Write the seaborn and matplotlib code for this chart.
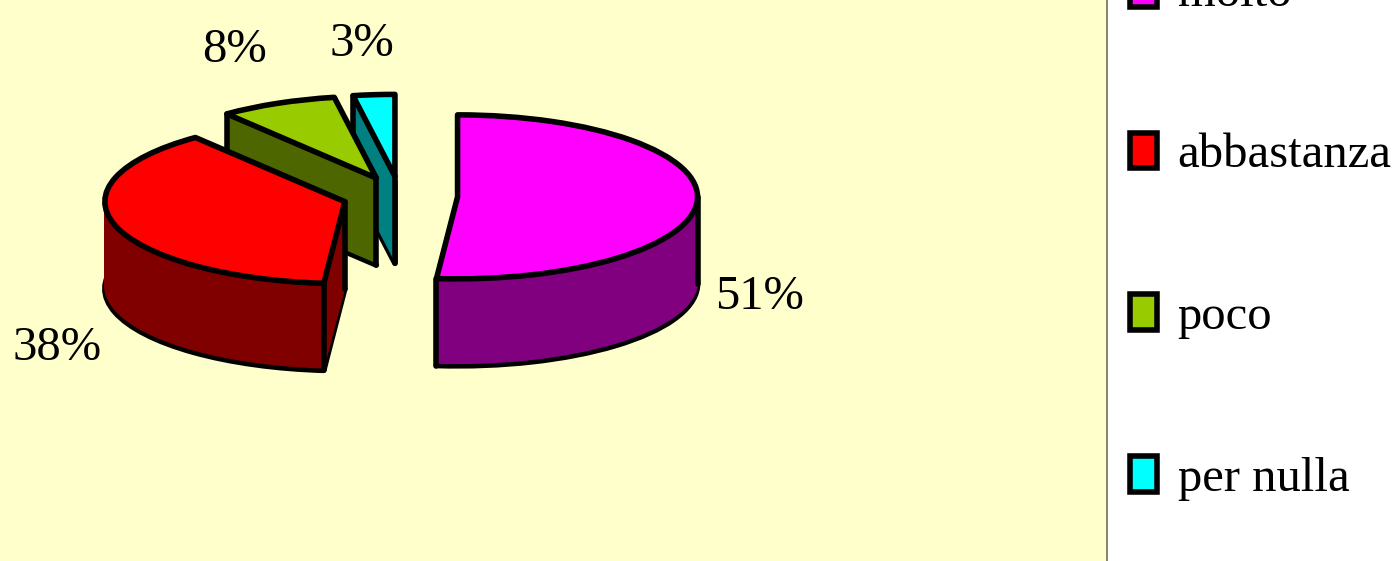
import numpy as np
import matplotlib
matplotlib.use("Agg")
import matplotlib.pyplot as plt
from matplotlib.patches import Patch
import seaborn as sns

categories = ["molto", "abbastanza", "poco", "per nulla"]
values = [51.4, 37.9, 7.9, 2.8]
top_colors = ["#FF00FF", "#FF0000", "#99CC00", "#00FFFF"]
side_colors = ["#800080", "#800000", "#4D6600", "#008080"]

W, H = 1396, 561
PANEL_W = 1107
CX, CY = 400, 196      # pie centre, pixels
RX, RY = 240, 82       # ellipse radii, pixels
DEPTH = 87 / RY        # thickness in y units
EXPLODE = 0.24
LW = 4.0
FONT = "Liberation Serif"

sns.set_theme(style="white")
plt.rcParams["font.family"] = [FONT, "DejaVu Serif"]


def draw_layer(ax, idx, dy, face, edge, lw):
    """One slice of the pie, shifted down by dy, the other slices hidden."""
    wedges, _ = ax.pie(values, explode=[EXPLODE] * len(values), startangle=90,
                       counterclock=False, center=(0, -dy), radius=1,
                       colors=[face] * len(values),
                       wedgeprops={"edgecolor": edge, "linewidth": lw,
                                   "joinstyle": "round"})
    for i, w in enumerate(wedges):
        w.set_visible(i == idx)
    return wedges[idx]


def draw_slice(ax, idx):
    draw_layer(ax, idx, DEPTH, top_colors[idx], "black", LW)
    for dy in np.arange(DEPTH - 0.03, 0, -0.02):
        draw_layer(ax, idx, dy, side_colors[idx], side_colors[idx], 1.0)

    # vertical edges go between the side stack and the top face
    top = draw_layer(ax, idx, 0, top_colors[idx], "black", LW)
    top.set_visible(False)
    cx, cy = top.center
    t1, t2 = top.theta1 % 360, top.theta2 % 360
    if t2 <= t1:
        t2 += 360
    angles = [t1, t2] + [a for a in (180, 360, 540) if t1 < a < t2]
    xs = [cx] + [cx + np.cos(np.radians(a)) for a in angles]
    ys = [cy] + [cy + np.sin(np.radians(a)) for a in angles]
    path = top.get_path()
    for x, y in zip(xs, ys):
        # an edge starting inside the top face is a hidden one
        if path.contains_point((x, y - 0.03)):
            continue
        ax.plot([x, x], [y, y - DEPTH], color="black", lw=LW,
                solid_capstyle="round", zorder=1)
    draw_layer(ax, idx, 0, top_colors[idx], "black", LW)


fig = plt.figure(figsize=(W / 100, H / 100), dpi=100, facecolor="white")
ax = fig.add_axes([0, 0, PANEL_W / W, 1])

# drawn back to front, so that nearer slices cover the others
for idx in [3, 2, 1, 0]:
    draw_slice(ax, idx)

ax.set_frame_on(True)
ax.set_aspect("auto")
ax.set_xlim(-CX / RX, (PANEL_W - CX) / RX)
ax.set_ylim((CY - H) / RY, CY / RY)
ax.set_facecolor("#FFFFCC")
ax.set_xticks([])
ax.set_yticks([])
for name, spine in ax.spines.items():
    spine.set_visible(name == "right")
ax.spines["right"].set_color("#6E6E5A")
ax.spines["right"].set_linewidth(1.2)

label_pos = [(760, 297), (57, 348), (234, 50), (362, 44)]
for v, (px, py) in zip(values, label_pos):
    ax.annotate(f"{round(v)}%", xy=(px / PANEL_W, 1 - py / H), xycoords="axes fraction",
                ha="center", va="center", fontsize=35, color="black", family=FONT)

handles = [Patch(facecolor=c, edgecolor="black", linewidth=LW, joinstyle="round")
           for c in top_colors]
leg = fig.legend(handles, categories, loc="upper left", frameon=False,
                 bbox_to_anchor=(1130 / W, 1 + 29 / H), borderaxespad=0, borderpad=0,
                 handlelength=0.56, handleheight=0.76, handletextpad=0.42,
                 labelspacing=2.4, prop={"family": FONT, "size": 35})
for t in leg.get_texts():
    t.set_color("black")

fig.savefig("out.png", dpi=100, facecolor="white")
